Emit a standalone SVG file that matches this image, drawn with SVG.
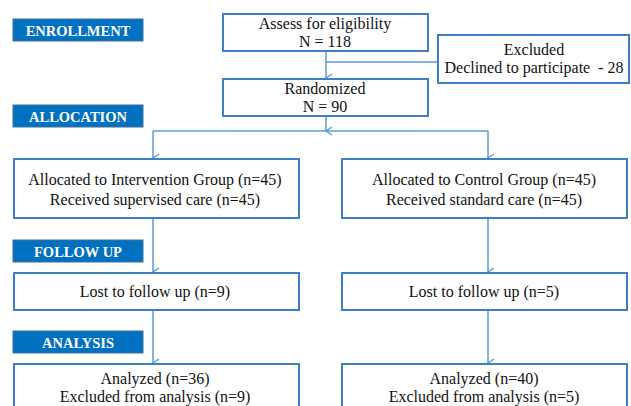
<svg xmlns="http://www.w3.org/2000/svg" width="631" height="406" viewBox="0 0 631 406">
<style>
.box{fill:#fff;stroke:#3F7FC8;stroke-width:2}
.lab{fill:#0070C0;stroke:#41719C;stroke-width:1}
.t{font-family:"Liberation Serif","Times New Roman",serif;font-size:16px;fill:#111;text-anchor:middle;white-space:pre}
.lt{font-family:"Liberation Serif","Times New Roman",serif;font-size:14.5px;font-weight:bold;fill:#fff;text-anchor:middle}
.c{fill:none;stroke:#5B9BD5;stroke-width:1.5}
</style>
<defs>
<marker id="a" markerWidth="10" markerHeight="10" refX="5" refY="7" orient="auto" markerUnits="userSpaceOnUse" viewBox="0 0 10 10">
<path d="M1,1 L5,7 L9,1" fill="none" stroke="#5B9BD5" stroke-width="1.5"/>
</marker>
</defs>
<g id="connectors">
<path class="c" d="M326,52 V78" marker-end="url(#a)"/>
<path class="c" d="M326,62 H438"/>
<path class="c" d="M326,117 V131" marker-end="url(#a)"/>
<path class="c" d="M153,131 H488"/>
<path class="c" d="M153,131 V158" marker-end="url(#a)"/>
<path class="c" d="M488,131 V158" marker-end="url(#a)"/>
<path class="c" d="M153,219 V272" marker-end="url(#a)"/>
<path class="c" d="M488,219 V272" marker-end="url(#a)"/>
<path class="c" d="M153,311 V363" marker-end="url(#a)"/>
<path class="c" d="M488,311 V363" marker-end="url(#a)"/>
</g>
<g id="label-enrollment"><rect class="lab" x="13" y="19" width="130" height="22"/><text class="lt" x="78" y="35.5">ENROLLMENT</text></g>
<g id="label-allocation"><rect class="lab" x="13" y="105" width="130" height="22"/><text class="lt" x="78" y="121.5">ALLOCATION</text></g>
<g id="label-followup"><rect class="lab" x="13" y="240" width="130" height="22"/><text class="lt" x="78" y="256.5">FOLLOW UP</text></g>
<g id="label-analysis"><rect class="lab" x="13" y="331" width="130" height="22"/><text class="lt" x="78" y="347.5">ANALYSIS</text></g>
<g id="assess"><rect class="box" x="223" y="14" width="205" height="37"/><text class="t" x="325" y="29">Assess for eligibility</text><text class="t" x="325" y="47">N = 118</text></g>
<g id="excluded"><rect class="box" x="438" y="35" width="191" height="48"/><text class="t" x="534" y="55">Excluded</text><text class="t" x="534" y="73" xml:space="preserve">Declined to participate  - 28</text></g>
<g id="randomized"><rect class="box" x="223" y="79" width="205" height="37"/><text class="t" x="325" y="94">Randomized</text><text class="t" x="325" y="112">N = 90</text></g>
<g id="intervention"><rect class="box" x="14" y="159" width="285" height="59"/><text class="t" x="155" y="185">Allocated to Intervention Group (n=45)</text><text class="t" x="155" y="205">Received supervised care (n=45)</text></g>
<g id="control"><rect class="box" x="342" y="159" width="285" height="59"/><text class="t" x="484" y="185">Allocated to Control Group (n=45)</text><text class="t" x="484" y="205">Received standard care (n=45)</text></g>
<g id="lost-intervention"><rect class="box" x="14" y="273" width="285" height="37"/><text class="t" x="155" y="297">Lost to follow up (n=9)</text></g>
<g id="lost-control"><rect class="box" x="342" y="273" width="285" height="37"/><text class="t" x="484" y="297">Lost to follow up (n=5)</text></g>
<g id="analyzed-intervention"><rect class="box" x="14" y="364" width="285" height="50"/><text class="t" x="155" y="384">Analyzed (n=36)</text><text class="t" x="155" y="402">Excluded from analysis (n=9)</text></g>
<g id="analyzed-control"><rect class="box" x="342" y="364" width="285" height="50"/><text class="t" x="484" y="384">Analyzed (n=40)</text><text class="t" x="484" y="402">Excluded from analysis (n=5)</text></g>
</svg>
